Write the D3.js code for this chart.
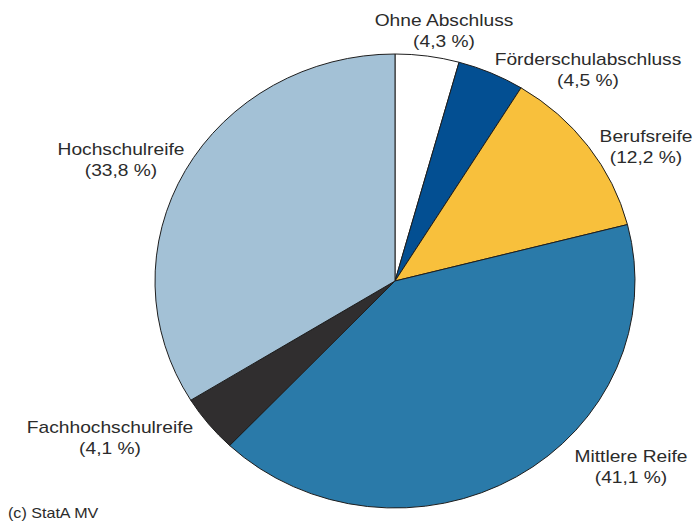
<!DOCTYPE html>
<html>
<head>
<meta charset="utf-8">
<script src="https://cdn.jsdelivr.net/npm/d3@7"></script>
<style>
  body { margin: 0; background: #fff; }
  text { font-family: "Liberation Sans", Arial, sans-serif; fill: #2b2b2b; }
</style>
</head>
<body>
<div id="chart"></div>
<script>
var categories = ["Ohne Abschluss", "Förderschulabschluss", "Berufsreife", "Mittlere Reife", "Fachhochschulreife", "Hochschulreife"];
var shares = [4.3, 4.5, 12.2, 41.1, 4.1, 33.8];
var shareLabels = ["(4,3 %)", "(4,5 %)", "(12,2 %)", "(41,1 %)", "(4,1 %)", "(33,8 %)"];
var colors = ["#ffffff", "#034f92", "#f8c03c", "#2a7aa9", "#302e2f", "#a3c1d6"];

// hand placed label anchors (centre x, first baseline)
var labelPos = [[444, 26], [588, 65], [646, 142], [631, 462], [110, 433], [121, 155]];

var svgWidth = 694, svgHeight = 526;
var cx = 395, cy = 281, rx = 240, ry = 227;

var svg = d3.select("#chart")
  .append("svg")
    .attr("width", svgWidth)
    .attr("height", svgHeight);

var data = categories.map((c, i) => ({name: c, value: shares[i], label: shareLabels[i], color: colors[i]}));

var pie = d3.pie()
  .sort(null)
  .value(d => d.value);

var arc = d3.arc()
  .innerRadius(0)
  .outerRadius(rx);

var pieGroup = svg.append("g")
  .attr("transform", `translate(${cx}, ${cy}) scale(1, ${ry / rx})`);

pieGroup.selectAll("path")
  .data(pie(data))
  .enter()
  .append("path")
    .attr("d", arc)
    .attr("fill", d => d.data.color)
    .attr("stroke", "#1e1e1e")
    .attr("stroke-width", 1)
    .attr("vector-effect", "non-scaling-stroke")
    .attr("stroke-linejoin", "round");

var labels = svg.selectAll(".lbl")
  .data(data)
  .enter()
  .append("g")
    .attr("class", "lbl")
    .attr("transform", (d, i) => `translate(${labelPos[i][0]}, ${labelPos[i][1]}) scale(1.2, 1)`);

labels.append("text")
  .attr("text-anchor", "middle")
  .attr("font-size", "16px")
  .text(d => d.name);

labels.append("text")
  .attr("text-anchor", "middle")
  .attr("font-size", "16px")
  .attr("y", 21)
  .text(d => d.label);

svg.append("text")
  .attr("transform", "translate(8, 518) scale(1.15, 1)")
  .attr("font-size", "14px")
  .text("(c) StatA MV");
</script>
</body>
</html>
